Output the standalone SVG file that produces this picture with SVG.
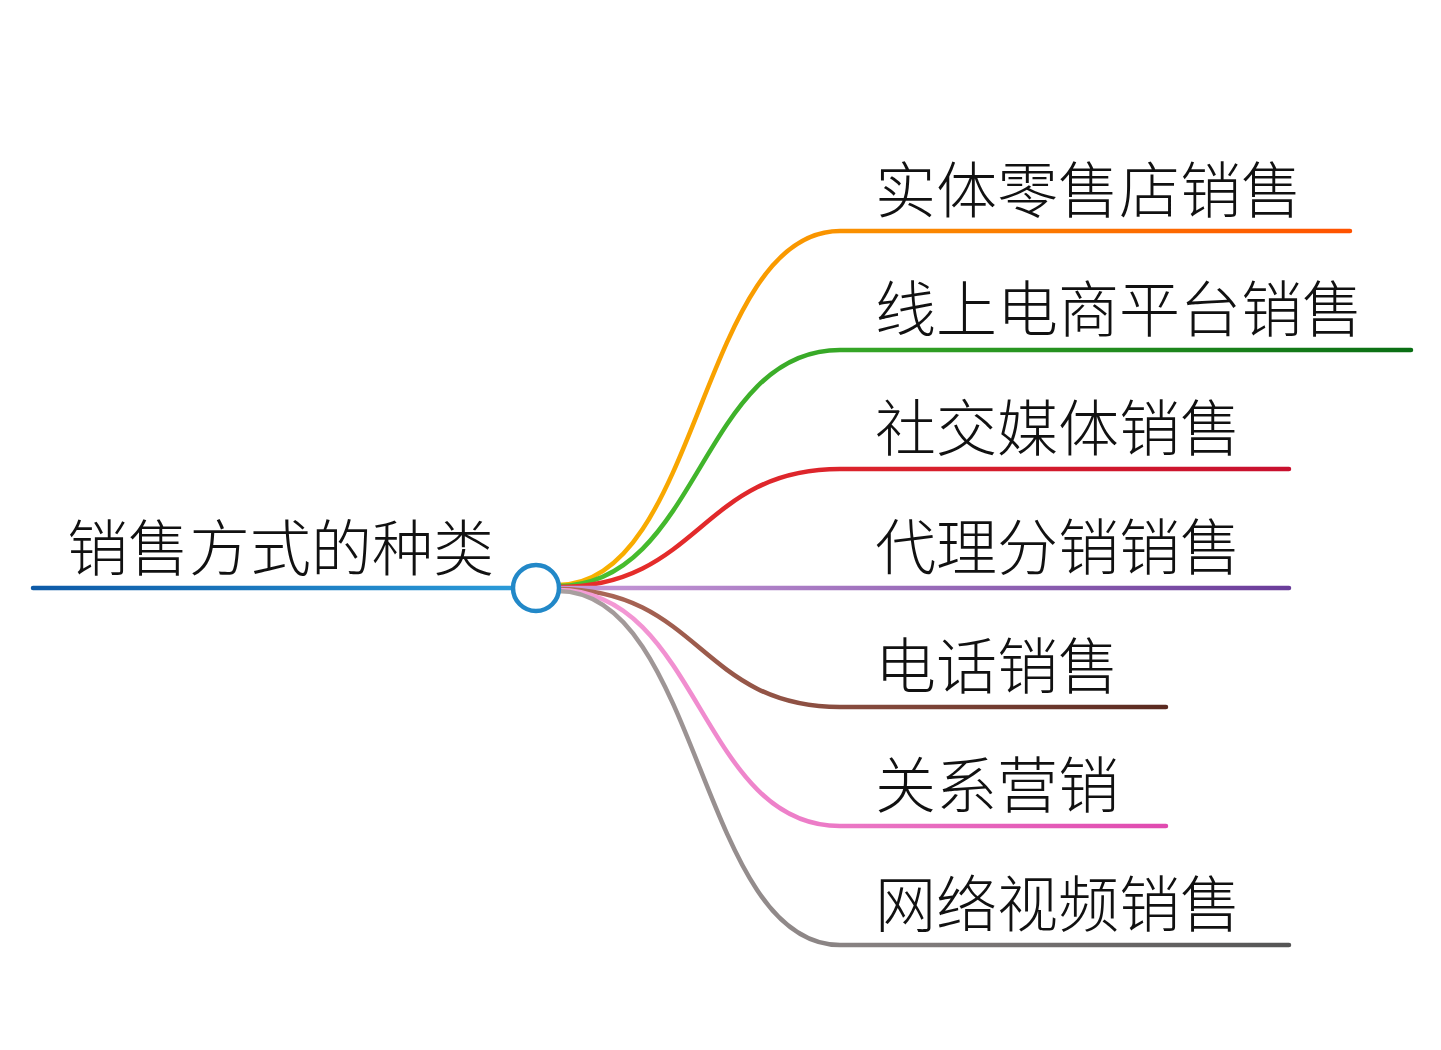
<svg xmlns="http://www.w3.org/2000/svg" width="1441" height="1050" viewBox="0 0 1441 1050">
<style>
text{font-family:"Noto Sans CJK SC","Noto Sans",sans-serif;font-size:61px;font-weight:300;fill:#111}
.b{fill:none;stroke-width:4.5;stroke-linecap:round}
</style>
<defs>
<linearGradient id="g0" gradientUnits="userSpaceOnUse" x1="33" y1="0" x2="512" y2="0"><stop offset="0" stop-color="#0d5aa7"/><stop offset="1" stop-color="#2a9ad8"/></linearGradient>
<linearGradient id="g1" gradientUnits="userSpaceOnUse" x1="558" y1="0" x2="1350" y2="0"><stop offset="0" stop-color="#f7b500"/><stop offset="1" stop-color="#ff5200"/></linearGradient>
<linearGradient id="g2" gradientUnits="userSpaceOnUse" x1="558" y1="0" x2="1411" y2="0"><stop offset="0" stop-color="#4cc330"/><stop offset="1" stop-color="#0a6e14"/></linearGradient>
<linearGradient id="g3" gradientUnits="userSpaceOnUse" x1="558" y1="0" x2="1289" y2="0"><stop offset="0" stop-color="#e8302a"/><stop offset="1" stop-color="#c8102e"/></linearGradient>
<linearGradient id="g4" gradientUnits="userSpaceOnUse" x1="558" y1="0" x2="1289" y2="0"><stop offset="0" stop-color="#c89ad8"/><stop offset="1" stop-color="#6a3d9a"/></linearGradient>
<linearGradient id="g5" gradientUnits="userSpaceOnUse" x1="558" y1="0" x2="1166" y2="0"><stop offset="0" stop-color="#b06a5a"/><stop offset="1" stop-color="#5a2a20"/></linearGradient>
<linearGradient id="g6" gradientUnits="userSpaceOnUse" x1="558" y1="0" x2="1166" y2="0"><stop offset="0" stop-color="#f5a0d8"/><stop offset="1" stop-color="#e04ab0"/></linearGradient>
<linearGradient id="g7" gradientUnits="userSpaceOnUse" x1="558" y1="0" x2="1289" y2="0"><stop offset="0" stop-color="#aaa0a0"/><stop offset="1" stop-color="#555"/></linearGradient>
</defs>
<g id="connectors">
<path class="b" stroke="url(#g0)" d="M33,588H512"/>
<path class="b" stroke="url(#g1)" d="M558,585C700,585 700,231 840,231H1350"/>
<path class="b" stroke="url(#g2)" d="M558,586C700,586 700,350 840,350H1411"/>
<path class="b" stroke="url(#g3)" d="M558,587C700,587 700,469 840,469H1289"/>
<path class="b" stroke="url(#g4)" d="M558,588H1289"/>
<path class="b" stroke="url(#g5)" d="M558,589C700,589 700,707 840,707H1166"/>
<path class="b" stroke="url(#g6)" d="M558,590C700,590 700,826 840,826H1166"/>
<path class="b" stroke="url(#g7)" d="M558,591C700,591 700,945 840,945H1289"/>
</g>
<g id="root"><text x="67" y="571">销售方式的种类</text><circle cx="536" cy="588" r="23" fill="#fff" stroke="#2288c8" stroke-width="4.5"/></g>
<g id="n1"><text x="875" y="213">实体零售店销售</text></g>
<g id="n2"><text x="875" y="332">线上电商平台销售</text></g>
<g id="n3"><text x="875" y="451">社交媒体销售</text></g>
<g id="n4"><text x="875" y="570">代理分销销售</text></g>
<g id="n5"><text x="875" y="689">电话销售</text></g>
<g id="n6"><text x="875" y="808">关系营销</text></g>
<g id="n7"><text x="875" y="927">网络视频销售</text></g>
</svg>
